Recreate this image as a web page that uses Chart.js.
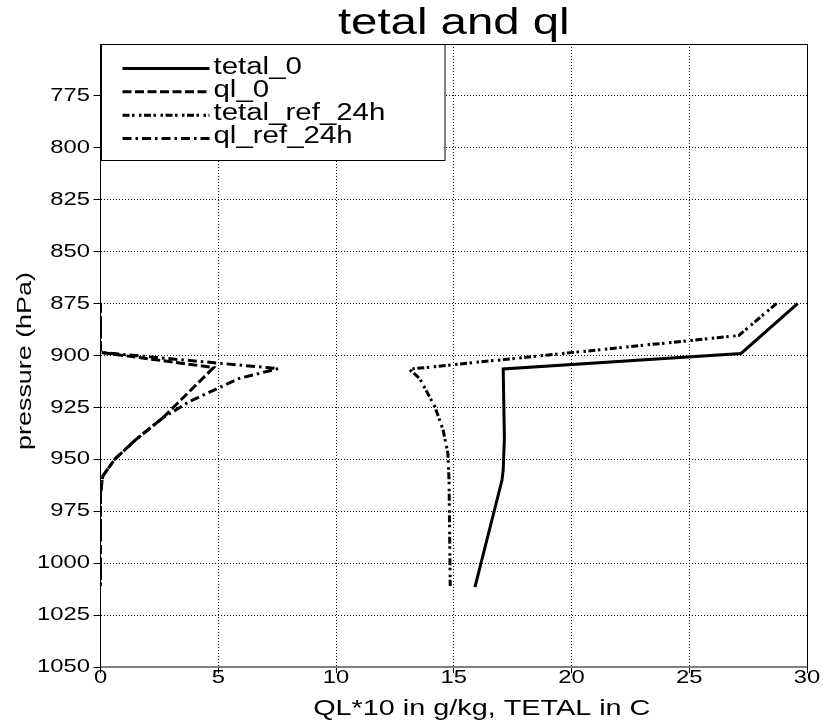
<!DOCTYPE html>
<html>
<head>
<meta charset="utf-8">
<script src="https://cdn.jsdelivr.net/npm/chart.js@4.4.1/dist/chart.umd.min.js"></script>
<style>
  html, body { margin: 0; padding: 0; background: #fff; }
  canvas { display: block; }
</style>
</head>
<body>
<canvas id="profileChart" width="823" height="724"></canvas>
<script>
// Profiles: x value, pressure (hPa)
const tetal0X = [29.6, 27.2, 17.1, 17.15, 17.1, 17.05, 15.9];
const tetal0P = [875, 899, 906.5, 940, 955, 960, 1011.5];

const ql0X = [0, 0, 4.8, 2.65, 1.5, 0.6, 0.1, 0, 0];
const ql0P = [875, 898.5, 905.8, 930, 940.5, 950, 958, 966, 1011];

const tetalRefX = [28.7, 27.1, 13.1, 13.55, 14.2, 14.55, 14.75, 14.8, 14.85];
const tetalRefP = [875, 890.4, 906.6, 911, 924.7, 936, 947, 960, 1011];

const qlRefX = [0, 0, 7.55, 5.9, 3.8, 2.65, 1.5, 0.6, 0.1, 0, 0];
const qlRefP = [875, 898.5, 906.3, 911, 922, 930, 940.5, 950, 958, 966, 1011];

const xTicks = [0, 5, 10, 15, 20, 25, 30];
const pTicks = [775, 800, 825, 850, 875, 900, 925, 950, 975, 1000, 1025, 1050];

const chartTitle = 'tetal and ql';
const xTitle = 'QL*10 in g/kg, TETAL in C';
const yTitle = 'pressure (hPa)';

const FONT = '"Liberation Sans", Arial, sans-serif';
const STRETCH = 1.28; // the original text is drawn wide

const canvas = document.getElementById('profileChart');
const ctx = canvas.getContext('2d');

// widen every text draw around its anchor point
const rawFill = ctx.fillText.bind(ctx);
const rawMeasure = ctx.measureText.bind(ctx);
ctx.fillText = function (text, x, y, maxWidth) {
    this.save();
    this.translate(x, y);
    this.scale(STRETCH, 1);
    if (maxWidth === undefined) rawFill(text, 0, 0);
    else rawFill(text, 0, 0, maxWidth / STRETCH);
    this.restore();
};
ctx.measureText = function (text) {
    const m = rawMeasure(text);
    return {
        width: m.width * STRETCH,
        actualBoundingBoxAscent: m.actualBoundingBoxAscent,
        actualBoundingBoxDescent: m.actualBoundingBoxDescent,
        actualBoundingBoxLeft: m.actualBoundingBoxLeft * STRETCH,
        actualBoundingBoxRight: m.actualBoundingBoxRight * STRETCH
    };
};

const toPoints = (xs, ps) => xs.map((x, i) => ({ x: x, y: ps[i] }));

// frame, legend box and axis titles
const framePlugin = {
    id: 'frame',
    afterDraw(chart) {
        const c = chart.ctx;
        const a = chart.chartArea;
        const top = Math.round(a.top) + 0.5;
        const right = Math.round(a.right) + 0.5;
        c.save();
        c.strokeStyle = '#000';
        c.lineWidth = 1;
        c.setLineDash([]);
        c.beginPath();
        c.moveTo(a.left, top);
        c.lineTo(right, top);
        c.lineTo(right, a.bottom + 6);
        c.stroke();

        // legend
        const lx = Math.round(a.left) + 0.5;
        const lw = 343.5, lh = 116;
        c.fillStyle = '#fff';
        c.fillRect(lx, top, lw, lh);
        c.strokeRect(lx, top, lw, lh);
        chart.data.datasets.forEach((ds, i) => {
            const base = a.top + 29.5 + i * 23.33;
            c.strokeStyle = '#000';
            c.lineWidth = ds.borderWidth;
            c.lineCap = 'butt';
            c.setLineDash(ds.borderDash);
            c.beginPath();
            c.moveTo(lx + 21, base - 5);
            c.lineTo(lx + 108, base - 5);
            c.stroke();
            c.setLineDash([]);
            c.fillStyle = '#000';
            c.font = '23px ' + FONT;
            c.textAlign = 'left';
            c.textBaseline = 'alphabetic';
            c.fillText(ds.label, lx + 112, base);
        });

        // axis titles
        c.fillStyle = '#000';
        c.font = '22.5px ' + FONT;
        c.textAlign = 'center';
        c.textBaseline = 'alphabetic';
        c.fillText(xTitle, (a.left + a.right) / 2 + 28, 714.5);

        c.save();
        c.translate(25.6, (a.top + a.bottom) / 2 + 5.5);
        c.rotate(-Math.PI / 2);
        c.font = '21px ' + FONT;
        c.textAlign = 'center';
        c.textBaseline = 'middle';
        c.fillText(yTitle, 0, 0);
        c.restore();
        c.restore();
    }
};

new Chart(ctx, {
    type: 'scatter',
    data: {
        datasets: [
            { label: 'tetal_0', data: toPoints(tetal0X, tetal0P), borderDash: [] },
            { label: 'ql_0', data: toPoints(ql0X, ql0P), borderDash: [9, 3.5] },
            { label: 'tetal_ref_24h', data: toPoints(tetalRefX, tetalRefP), borderDash: [7, 2.5, 2.5, 4.5, 2.5, 2.5] },
            { label: 'ql_ref_24h', data: toPoints(qlRefX, qlRefP), borderDash: [9, 4, 2.5, 4] }
        ].map(ds => Object.assign(ds, {
            showLine: true,
            borderColor: '#000',
            borderWidth: 3,
            pointRadius: 0,
            pointHoverRadius: 0,
            fill: false,
            tension: 0
        }))
    },
    options: {
        responsive: false,
        animation: false,
        events: [],
        layout: { padding: { left: 0, right: 16, top: 0, bottom: 0 } },
        plugins: {
            legend: { display: false },
            tooltip: { enabled: false },
            title: {
                display: true,
                text: chartTitle,
                color: '#000',
                fullSize: false,
                font: { family: FONT, size: 37, weight: 'normal', lineHeight: 1 },
                padding: { top: 5.7, bottom: 1.3 }
            }
        },
        scales: {
            x: {
                type: 'linear',
                min: 0,
                max: 30,
                afterFit: s => { s.height = 57; },
                afterBuildTicks: s => { s.ticks = xTicks.map(v => ({ value: v })); },
                ticks: {
                    color: '#000',
                    autoSkip: false,
                    maxRotation: 0,
                    padding: -4,
                    font: { family: FONT, size: 18.6, lineHeight: 1 }
                },
                grid: {
                    color: c => (c.tick && (c.tick.value === 0 || c.tick.value === 30)) ? 'rgba(0,0,0,0)' : '#000',
                    lineWidth: 1,
                    tickLength: 6,
                    tickColor: '#000',
                    tickWidth: 1
                },
                border: { display: true, color: '#808080', width: 2, dash: [1, 2] }
            },
            y: {
                type: 'linear',
                min: 750,
                max: 1050,
                reverse: true,
                afterFit: s => { s.width = 100.5; },
                afterBuildTicks: s => { s.ticks = [750].concat(pTicks).map(v => ({ value: v })); },
                ticks: {
                    color: '#000',
                    autoSkip: false,
                    padding: 3.5,
                    font: { family: FONT, size: 18.6, lineHeight: 1 },
                    callback: v => (v === 750 ? '' : v)
                },
                grid: {
                    color: c => (c.tick && (c.tick.value === 750 || c.tick.value === 1050)) ? 'rgba(0,0,0,0)' : '#000',
                    lineWidth: 1,
                    tickLength: 7,
                    tickColor: c => (c.tick && c.tick.value === 750) ? 'rgba(0,0,0,0)' : '#000',
                    tickWidth: 1
                },
                border: { display: true, color: '#000', width: 1, dash: [1, 2] }
            }
        }
    },
    plugins: [framePlugin]
});
</script>
</body>
</html>
